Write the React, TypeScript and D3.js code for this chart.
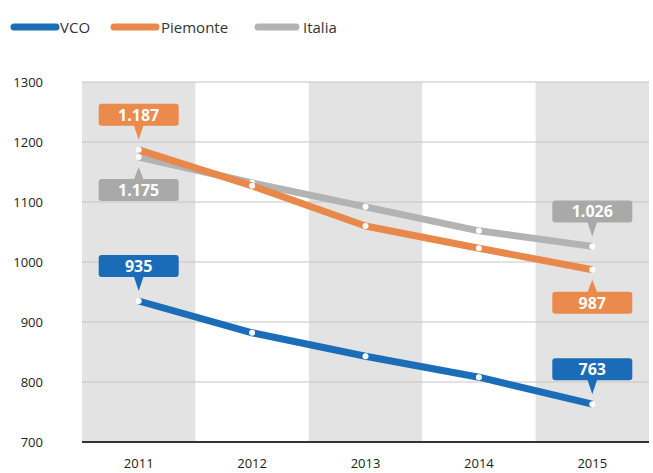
import React from "react";
import * as d3 from "d3";

const years = ["2011", "2012", "2013", "2014", "2015"];
const vco = [935, 882, 843, 808, 763];
const piemonte = [1187, 1127, 1060, 1023, 987];
const italia = [1175, 1132, 1092, 1052, 1026];
const yTicks = [700, 800, 900, 1000, 1100, 1200, 1300];

const seriesNames = ["VCO", "Piemonte", "Italia"];
const colors: Record<string, string> = {
  VCO: "#1b6db7",
  Piemonte: "#e9884b",
  Italia: "#b3b3b3",
};
const labelColors: Record<string, string> = {
  VCO: "#1a6cb9",
  Piemonte: "#ea8a4c",
  Italia: "#a9a9a9",
};

// labels: [series, year index, text, position]
const callouts: [string, number, string, "above" | "below"][] = [
  ["Piemonte", 0, "1.187", "above"],
  ["Italia", 0, "1.175", "below"],
  ["VCO", 0, "935", "above"],
  ["Italia", 4, "1.026", "above"],
  ["Piemonte", 4, "987", "below"],
  ["VCO", 4, "763", "above"],
];

const W = 653;
const H = 473;

export default function App() {
  const x = d3.scaleBand<string>().domain(years).range([82, 649]).padding(0);
  const y = d3.scaleLinear().domain([700, 1300]).range([442, 82]);
  const cx = (i: number) => (x(years[i]) as number) + x.bandwidth() / 2;
  const dataMap: Record<string, number[]> = { VCO: vco, Piemonte: piemonte, Italia: italia };
  const line = d3
    .line<number>()
    .x((_, i) => cx(i))
    .y((d) => y(d))
    .curve(d3.curveLinear);
  const font = "'Open Sans', 'Noto Sans', sans-serif";
  const drawOrder = ["Italia", "Piemonte", "VCO"];

  const legendItems = [
    { name: "VCO", x0: 14, x1: 56, tx: 60 },
    { name: "Piemonte", x0: 114, x1: 156, tx: 161 },
    { name: "Italia", x0: 258, x1: 296, tx: 303 },
  ];

  return (
    <svg
      width={W}
      height={H}
      style={{ position: "absolute", left: 0, top: 0, background: "#fff" }}
      fontFamily={font}
    >
      {/* legend */}
      {legendItems.map((l) => (
        <g key={l.name}>
          <line
            x1={l.x0}
            x2={l.x1}
            y1={27}
            y2={27}
            stroke={colors[l.name]}
            strokeWidth={7}
            strokeLinecap="round"
          />
          <text x={l.tx} y={33} fontSize={15} fill="#333">
            {l.name}
          </text>
        </g>
      ))}

      {/* alternating bands */}
      {years.map((yr, i) =>
        i % 2 === 0 ? (
          <rect
            key={yr}
            x={x(yr)}
            y={y(1300)}
            width={x.bandwidth()}
            height={y(700) - y(1300)}
            fill="#e3e3e3"
          />
        ) : null
      )}

      {/* gridlines */}
      {yTicks.slice(1).map((t) => (
        <line
          key={t}
          x1={82}
          x2={649}
          y1={y(t)}
          y2={y(t)}
          stroke="#c6c6c6"
          strokeWidth={1.2}
        />
      ))}
      <line x1={82} x2={649} y1={y(700)} y2={y(700)} stroke="#333" strokeWidth={2} />

      {/* y tick labels */}
      {yTicks.map((t) => (
        <text key={t} x={43} y={y(t) + 5} fontSize={13} textAnchor="end" fill="#222">
          {t}
        </text>
      ))}

      {/* x labels */}
      {years.map((yr, i) => (
        <text key={yr} x={cx(i)} y={468} fontSize={13} textAnchor="middle" fill="#222">
          {yr}
        </text>
      ))}

      {/* lines */}
      {drawOrder.map((s) => (
        <g key={s}>
          <path
            d={line(dataMap[s]) as string}
            fill="none"
            stroke={colors[s]}
            strokeWidth={7}
            strokeLinejoin="round"
          />
          {dataMap[s].map((v, i) => (
            <circle key={i} cx={cx(i)} cy={y(v)} r={3} fill="#fff" />
          ))}
        </g>
      ))}

      {/* callouts */}
      {callouts.map(([s, i, txt, pos]) => {
        const px = cx(i);
        const py = y(dataMap[s][i]);
        const bw = 80;
        const bh = 22;
        const bx = px - bw / 2;
        const by = pos === "above" ? py - 24 - bh : py + 22;
        const tip = pos === "above" ? py - 10 : py + 10;
        const base = pos === "above" ? by + bh - 1 : by + 1;
        const c = labelColors[s];
        return (
          <g key={s + i}>
            <path d={`M${px - 5},${base} L${px + 5},${base} L${px},${tip} Z`} fill={c} />
            <rect x={bx} y={by} width={bw} height={bh} rx={3} fill={c} />
            <text
              x={px}
              y={by + 17}
              fontSize={16}
              fontWeight={700}
              fill="#fff"
              textAnchor="middle"
            >
              {txt}
            </text>
          </g>
        );
      })}
    </svg>
  );
}
